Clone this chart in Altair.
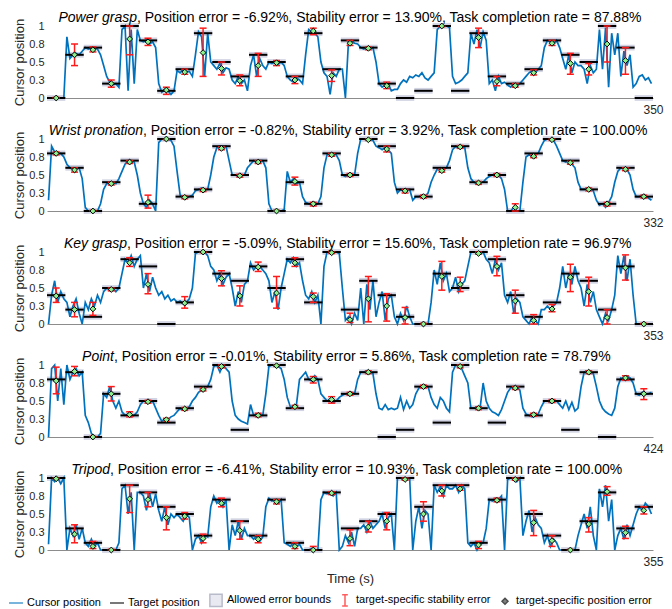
import altair as alt
import pandas as pd

FONT = "Liberation Sans"
BLUE = "#0072BD"
RED = "#FF1A1A"
BAND = "#d2d4e4"
GREEN = "#8CF08C"

MOVEMENTS = ["Power grasp", "Wrist pronation", "Key grasp", "Point", "Tripod"]
POSITION_ERROR = [-6.92, -0.82, -5.09, -0.01, -6.41]
STABILITY_ERROR = [13.90, 3.92, 15.60, 5.86, 10.93]
COMPLETION_RATE = [87.88, 100.00, 96.97, 78.79, 100.00]
DURATION = [350, 332, 353, 424, 355]

# ---------- targets (33 per movement) ----------
TGT1 = [0, 0.6, 0.7, 0.2, 1.0, 0.8, 0.1, 0.4, 0.9, 0.5, 0.3, 0.6, 0.5, 0.3, 0.9, 0.4,
        0.8, 0.7, 0.2, 0, 0.1, 1.0, 0.1, 0.9, 0.3, 0.2, 0.4, 0.8, 0.6, 0.5, 1.0, 0.7, 0]
POS1 = [0.0, 0.6, 0.67, 0.2, 0.82, 0.78, 0.11, 0.36, 0.63, 0.41, 0.24, 0.45, 0.49, 0.25, 0.93, 0.31,
        0.76, 0.69, 0.17, None, None, 1.0, None, 0.84, 0.23, 0.17, 0.35, 0.76, 0.48, 0.4, 0.75, 0.52, None]
LO1 = [0.0, 0.45, 0.64, 0.15, 0.6, 0.73, 0.05, 0.33, 0.3, 0.32, 0.17, 0.3, 0.45, 0.2, 0.88, 0.23,
       0.73, 0.67, 0.13, None, None, 0.99, None, 0.7, 0.17, 0.15, 0.32, 0.73, 0.33, 0.32, 0.5, 0.33, None]
HI1 = [0.01, 0.75, 0.71, 0.25, 1.0, 0.83, 0.15, 0.4, 0.97, 0.5, 0.32, 0.62, 0.52, 0.3, 0.97, 0.39,
       0.8, 0.71, 0.22, None, None, 1.0, None, 0.97, 0.3, 0.2, 0.39, 0.8, 0.62, 0.48, 1.0, 0.7, None]

TGT2 = [0.8, 0.6, 0, 0.4, 0.7, 0.1, 1.0, 0.2, 0.3, 0.9, 0.5, 0.7, 0, 0.4, 0.1, 0.8,
        0.5, 1.0, 0.9, 0.3, 0.2, 0.6, 0.9, 0.4, 0.5, 0.0, 0.8, 1.0, 0.7, 0.3, 0.1, 0.6, 0.2]
POS2 = [0.8, 0.57, 0.0, 0.38, 0.68, 0.12, 1.0, 0.19, 0.29, 0.87, 0.49, 0.68, 0.0, 0.41, 0.1, 0.78,
        0.5, 0.99, 0.86, 0.28, 0.2, 0.56, 0.89, 0.39, 0.5, 0.05, 0.76, 0.99, 0.67, 0.3, 0.1, 0.58, 0.2]
LO2 = [0.78, 0.54, 0.0, 0.36, 0.66, 0.04, 0.99, 0.17, 0.27, 0.85, 0.47, 0.66, 0.0, 0.36, 0.07, 0.76,
       0.48, 0.98, 0.82, 0.25, 0.18, 0.54, 0.87, 0.37, 0.48, 0.0, 0.74, 0.98, 0.65, 0.28, 0.07, 0.56, 0.18]
HI2 = [0.82, 0.6, 0.01, 0.4, 0.7, 0.22, 1.0, 0.21, 0.31, 0.89, 0.51, 0.7, 0.01, 0.47, 0.12, 0.8,
       0.52, 1.0, 0.9, 0.3, 0.22, 0.58, 0.91, 0.41, 0.52, 0.1, 0.78, 1.0, 0.69, 0.32, 0.12, 0.6, 0.22]

TGT3 = [0.4, 0.2, 0.1, 0.5, 0.9, 0.8, 0.0, 0.3, 1.0, 0.7, 0.6, 0.8, 0.5, 0.9, 0.3, 1.0,
        0.2, 0.6, 0.4, 0.1, 0.0, 0.7, 0.5, 1.0, 0.9, 0.4, 0.1, 0.3, 0.7, 0.6, 0.2, 0.8, 0.0]
POS3 = [0.39, 0.2, 0.21, 0.48, 0.85, 0.55, None, 0.29, 1.0, 0.63, 0.39, 0.79, 0.43, 0.85, 0.38, 0.99,
        0.06, 0.35, 0.25, 0.09, 0.0, 0.66, 0.55, 0.98, 0.8, 0.32, 0.05, 0.21, 0.65, 0.45, 0.09, 0.78, 0.0]
LO3 = [0.3, 0.1, 0.12, 0.46, 0.8, 0.42, None, 0.22, 0.99, 0.53, 0.25, 0.73, 0.22, 0.8, 0.3, 0.98,
       0.02, 0.03, 0.04, 0.0, 0.0, 0.47, 0.45, 0.97, 0.67, 0.15, 0.0, 0.17, 0.45, 0.25, 0.0, 0.61, 0.0]
HI3 = [0.5, 0.3, 0.3, 0.5, 0.92, 0.7, None, 0.38, 1.0, 0.74, 0.53, 0.86, 0.66, 0.92, 0.43, 1.0,
       0.15, 0.66, 0.42, 0.23, 0.01, 0.87, 0.65, 1.0, 0.94, 0.47, 0.13, 0.27, 0.83, 0.65, 0.2, 0.96, 0.01]

TGT4 = [0.8, 0.9, 0.0, 0.6, 0.3, 0.5, 0.2, 0.4, 0.7, 1.0, 0.1, 0.3, 1.0, 0.4, 0.8, 0.5,
        0.6, 0.9, 0.0, 0.1, 0.7, 0.2, 1.0, 0.4, 0.2, 0.7, 0.3, 0.5, 0.1, 0.9, 0.0, 0.8, 0.6]
POS4 = [0.78, 0.91, 0.0, 0.6, 0.31, 0.49, 0.24, 0.39, 0.66, 0.98, None, 0.3, 0.99, 0.42, 0.8, 0.52,
        0.6, 0.9, None, None, 0.7, None, 0.98, 0.4, None, 0.68, 0.31, 0.5, None, 0.9, None, 0.82, 0.6]
LO4 = [0.6, 0.85, 0.0, 0.5, 0.28, 0.47, 0.22, 0.37, 0.64, 0.96, None, 0.28, 0.98, 0.4, 0.75, 0.47,
       0.58, 0.88, None, None, 0.68, None, 0.96, 0.38, None, 0.66, 0.29, 0.48, None, 0.88, None, 0.79, 0.52]
HI4 = [0.97, 0.98, 0.01, 0.7, 0.35, 0.51, 0.26, 0.41, 0.68, 1.0, None, 0.33, 1.0, 0.44, 0.84, 0.56,
       0.62, 0.92, None, None, 0.72, None, 1.0, 0.42, None, 0.7, 0.33, 0.52, None, 0.92, None, 0.85, 0.67]

TGT5 = [1.0, 0.3, 0.1, 0.0, 0.9, 0.8, 0.6, 0.5, 0.2, 0.7, 0.4, 0.2, 0.7, 0.1, 0.0, 0.8,
        0.3, 0.4, 0.5, 1.0, 0.6, 0.9, 0.9, 0.1, 0.7, 1.0, 0.5, 0.2, 0.0, 0.4, 0.8, 0.3, 0.6]
POS5 = [0.99, 0.22, 0.05, 0.0, 0.71, 0.7, 0.45, 0.47, 0.16, 0.65, 0.27, 0.15, 0.67, 0.05, 0.0, 0.79,
        0.16, 0.32, 0.4, 0.98, 0.5, 0.82, 0.85, 0.07, 0.69, 0.98, 0.38, 0.13, 0.0, 0.36, 0.81, 0.24, 0.55]
LO5 = [0.98, 0.1, 0.02, 0.0, 0.52, 0.6, 0.28, 0.43, 0.1, 0.6, 0.15, 0.1, 0.64, 0.02, 0.0, 0.77,
       0.06, 0.25, 0.28, 0.97, 0.4, 0.75, 0.83, 0.02, 0.67, 0.97, 0.2, 0.05, 0.0, 0.25, 0.76, 0.16, 0.5]
HI5 = [1.0, 0.35, 0.12, 0.01, 0.9, 0.8, 0.6, 0.52, 0.22, 0.72, 0.4, 0.2, 0.7, 0.1, 0.05, 0.81,
       0.28, 0.4, 0.52, 1.0, 0.67, 0.9, 0.9, 0.12, 0.72, 1.0, 0.55, 0.2, 0.01, 0.45, 0.88, 0.33, 0.6]

# ---------- cursor traces (6 samples per target period) ----------
CUR1 = [
    0, 0, 0, 0, 0, 0,
    0.85, 0.55, 0.6, 0.62, 0.6, 0.65,
    0.7, 0.68, 0.7, 0.7, 0.68, 0.6,
    0.45, 0.3, 0.22, 0.18, 0.2, 0.15,
    0.95, 1.0, 0.1, 0.95, 0.2, 0.95,
    0.8, 0.78, 0.8, 0.75, 0.78, 0.7,
    0.2, 0.08, 0.12, 0.1, 0.05, 0.1,
    0.38, 0.35, 0.4, 0.36, 0.37, 0.3,
    0.6, 0.92, 0.85, 0.3, 0.9, 0.5,
    0.45, 0.4, 0.48, 0.35, 0.42, 0.4,
    0.25, 0.2, 0.3, 0.2, 0.25, 0.1,
    0.45, 0.6, 0.3, 0.55, 0.45, 0.4,
    0.5, 0.48, 0.5, 0.47, 0.5, 0.45,
    0.3, 0.25, 0.22, 0.28, 0.25, 0.2,
    0.6, 0.95, 0.92, 0.9, 0.85, 0.5,
    0.35, 0.3, 0.05, 0.35, 0.3, 0.4,
    0.4, 0.0, 0.78, 0.8, 0.76, 0.75,
    0.7, 0.68, 0.7, 0.69, 0.7, 0.5,
    0.2, 0.15, 0.18, 0.2, 0.1, 0.12,
    0.12, 0.2, 0.25, 0.22, 0.3, 0.28,
    0.32, 0.3, 0.35, 0.28, 0.25, 0.3,
    0.35, 0.95, 1.0, 1.0, 1.0, 0.98,
    0.3, 0.2, 0.22, 0.25, 0.3, 0.35,
    0.9, 0.75, 0.95, 0.7, 0.92, 0.8,
    0.2, 0.25, 0.1, 0.3, 0.2, 0.22,
    0.18, 0.15, 0.2, 0.17, 0.2, 0.25,
    0.3, 0.35, 0.38, 0.35, 0.4, 0.45,
    0.7, 0.8, 0.78, 0.75, 0.8, 0.7,
    0.55, 0.4, 0.6, 0.35, 0.5, 0.45,
    0.45, 0.4, 0.2, 0.45, 0.35, 0.4,
    0.95, 0.4, 0.98, 0.15, 0.9, 0.6,
    0.9, 0.3, 0.65, 0.45, 0.6, 0.15,
    0.2, 0.3, 0.32, 0.25, 0.28, 0.2,
]
CUR2 = [
    0.15, 0.9, 0.82, 0.8, 0.8, 0.75,
    0.65, 0.6, 0.58, 0.6, 0.6, 0.45,
    0.05, 0, 0, 0, 0, 0.1,
    0.3, 0.38, 0.4, 0.4, 0.38, 0.45,
    0.55, 0.65, 0.7, 0.7, 0.68, 0.5,
    0.25, 0.1, 0.05, 0.15, 0.1, 0.0,
    0.95, 1.0, 1.0, 1.0, 0.98, 0.9,
    0.55, 0.22, 0.2, 0.18, 0.2, 0.22,
    0.28, 0.3, 0.32, 0.3, 0.3, 0.5,
    0.75, 0.88, 0.9, 0.88, 0.9, 0.7,
    0.5, 0.5, 0.48, 0.5, 0.5, 0.6,
    0.65, 0.7, 0.68, 0.7, 0.7, 0.6,
    0.1, 0, 0, 0, 0, 0.02,
    0.55, 0.4, 0.45, 0.38, 0.4, 0.2,
    0.12, 0.1, 0.1, 0.08, 0.1, 0.2,
    0.6, 0.78, 0.8, 0.8, 0.78, 0.7,
    0.5, 0.48, 0.5, 0.5, 0.5, 0.8,
    1.0, 1.0, 1.0, 1.0, 0.98, 0.9,
    0.88, 0.85, 0.88, 0.85, 0.8, 0.4,
    0.25, 0.3, 0.28, 0.3, 0.3, 0.15,
    0.2, 0.2, 0.22, 0.2, 0.25, 0.4,
    0.5, 0.58, 0.6, 0.58, 0.6, 0.7,
    0.85, 0.9, 0.88, 0.9, 0.88, 0.6,
    0.45, 0.4, 0.38, 0.4, 0.4, 0.45,
    0.48, 0.5, 0.52, 0.5, 0.45, 0.3,
    0.0, 0.0, 0.05, 0.0, 0.0, 0.4,
    0.75, 0.78, 0.76, 0.78, 0.8, 0.9,
    0.98, 1.0, 1.0, 0.98, 0.9, 0.8,
    0.7, 0.68, 0.7, 0.65, 0.6, 0.4,
    0.3, 0.3, 0.32, 0.3, 0.28, 0.15,
    0.08, 0.1, 0.05, 0.12, 0.2, 0.4,
    0.55, 0.6, 0.6, 0.58, 0.5, 0.3,
    0.2, 0.2, 0.22, 0.2, 0.18, 0.15,
]
CUR3 = [
    0.0, 0.4, 0.6, 0.3, 0.45, 0.35,
    0.3, 0.1, 0.25, 0.35, 0.15, 0.0,
    0.3, 0.2, 0.35, 0.25, 0.4, 0.3,
    0.45, 0.5, 0.48, 0.5, 0.45, 0.5,
    0.7, 0.9, 0.85, 0.95, 0.8, 0.9,
    0.95, 0.5, 0.7, 0.45, 0.65, 0.5,
    0.4, 0.45, 0.35, 0.4, 0.32, 0.35,
    0.3, 0.32, 0.28, 0.3, 0.35, 0.5,
    0.98, 1.0, 1.0, 1.0, 0.95, 0.8,
    0.75, 0.6, 0.7, 0.55, 0.65, 0.7,
    0.5, 0.25, 0.45, 0.3, 0.55, 0.6,
    0.85, 0.75, 0.8, 0.8, 0.75, 0.7,
    0.6, 0.3, 0.45, 0.2, 0.5, 0.7,
    0.9, 0.85, 0.92, 0.8, 0.85, 0.6,
    0.4, 0.35, 0.45, 0.3, 0.4, 0.0,
    0.8, 1.0, 1.0, 1.0, 1.0, 0.98,
    0.5, 0.05, 0.1, 0.0, 0.15, 0.05,
    0.5, 0.0, 0.55, 0.2, 0.6, 0.1,
    0.3, 0.45, 0.05, 0.35, 0.4, 0.1,
    0.0, 0.15, 0.05, 0.25, 0.1, 0.0,
    0.0, 0.0, 0.0, 0.0, 0.0, 0.3,
    0.75, 0.55, 0.85, 0.6, 0.7, 0.45,
    0.5, 0.65, 0.45, 0.55, 0.6, 0.8,
    1.0, 1.0, 1.0, 0.98, 1.0, 0.9,
    0.85, 0.7, 0.9, 0.75, 0.85, 0.4,
    0.3, 0.45, 0.15, 0.35, 0.3, 0.1,
    0.05, 0.0, 0.1, 0.05, 0.0, 0.2,
    0.2, 0.25, 0.2, 0.25, 0.3, 0.5,
    0.8, 0.5, 0.7, 0.55, 0.8, 0.6,
    0.5, 0.25, 0.55, 0.3, 0.45, 0.2,
    0.1, 0.0, 0.15, 0.05, 0.2, 0.4,
    0.95, 0.7, 0.95, 0.6, 0.9, 0.4,
    0.0, 0.0, 0.0, 0.0, 0.0, 0.0,
]
CUR4 = [
    0.0, 0.95, 1.0, 0.5, 0.95, 0.45,
    1.0, 0.8, 0.9, 0.95, 0.85, 0.9,
    0.3, 0.2, 0.05, 0.0, 0.0, 0.05,
    0.6, 0.55, 0.7, 0.5, 0.4, 0.5,
    0.35, 0.3, 0.32, 0.28, 0.3, 0.35,
    0.45, 0.5, 0.5, 0.48, 0.5, 0.4,
    0.3, 0.22, 0.25, 0.24, 0.28, 0.3,
    0.35, 0.4, 0.38, 0.4, 0.42, 0.5,
    0.55, 0.62, 0.65, 0.68, 0.7, 0.8,
    0.98, 1.0, 0.9, 1.0, 0.95, 0.9,
    0.5, 0.3, 0.25, 0.22, 0.2, 0.18,
    0.45, 0.3, 0.32, 0.3, 0.3, 0.6,
    0.98, 1.0, 1.0, 0.98, 0.95, 0.8,
    0.55, 0.42, 0.4, 0.45, 0.8, 0.85,
    0.9, 0.8, 0.78, 0.85, 0.8, 0.6,
    0.55, 0.5, 0.52, 0.48, 0.5, 0.55,
    0.58, 0.6, 0.6, 0.62, 0.6, 0.8,
    0.9, 0.9, 0.92, 0.9, 0.88, 0.6,
    0.4, 0.38, 0.45, 0.38, 0.4, 0.38,
    0.4, 0.55, 0.38, 0.5, 0.4, 0.45,
    0.6, 0.68, 0.7, 0.72, 0.7, 0.55,
    0.45, 0.4, 0.55, 0.5, 0.4, 0.35,
    0.9, 1.0, 1.0, 0.95, 0.85, 0.75,
    0.4, 0.4, 0.42, 0.4, 0.75, 0.5,
    0.4, 0.35, 0.33, 0.3, 0.38, 0.5,
    0.62, 0.68, 0.7, 0.7, 0.65, 0.4,
    0.32, 0.3, 0.28, 0.3, 0.32, 0.42,
    0.5, 0.5, 0.48, 0.5, 0.5, 0.45,
    0.4, 0.5, 0.38, 0.48, 0.36, 0.4,
    0.7, 0.9, 0.92, 0.9, 0.88, 0.7,
    0.5, 0.4, 0.35, 0.32, 0.3, 0.4,
    0.7, 0.82, 0.8, 0.85, 0.82, 0.75,
    0.6, 0.58, 0.62, 0.6, 0.6, 0.62,
]
CUR5 = [
    0.08, 1.0, 0.95, 1.0, 0.92, 1.0,
    0.0, 0.3, 0.2, 0.35, 0.15, 0.3,
    0.1, 0.05, 0.15, 0.05, 0.1, 0.0,
    0.0, 0.0, 0.0, 0.0, 0.0, 0.1,
    0.85, 0.9, 0.5, 0.8, 0.0, 0.8,
    0.8, 0.75, 0.55, 0.8, 0.6, 0.78,
    0.55, 0.4, 0.6, 0.35, 0.5, 0.45,
    0.5, 0.45, 0.4, 0.5, 0.45, 0.0,
    0.15, 0.2, 0.1, 0.2, 0.18, 0.6,
    0.75, 0.65, 0.7, 0.6, 0.7, 0.0,
    0.35, 0.2, 0.4, 0.15, 0.3, 0.2,
    0.2, 0.15, 0.2, 0.12, 0.18, 0.6,
    0.72, 0.68, 0.7, 0.65, 0.7, 0.1,
    0.08, 0.05, 0.1, 0.05, 0.08, 0.0,
    0.0, 0.0, 0.02, 0.0, 0.0, 0.7,
    0.8, 0.78, 0.8, 0.75, 0.8, 0.0,
    0.05, 0.2, 0.1, 0.25, 0.05, 0.3,
    0.3, 0.35, 0.25, 0.4, 0.3, 0.35,
    0.4, 0.5, 0.3, 0.45, 0.5, 0.0,
    1.0, 1.0, 0.98, 1.0, 1.0, 0.0,
    0.4, 0.6, 0.3, 0.55, 0.5, 0.0,
    0.9, 0.8, 0.88, 0.75, 0.9, 0.85,
    0.85, 0.9, 0.8, 0.9, 0.85, 0.1,
    0.05, 0.1, 0.0, 0.08, 0.1, 0.3,
    0.7, 0.68, 0.72, 0.7, 0.75, 0.0,
    0.98, 1.0, 1.0, 0.95, 1.0, 0.2,
    0.4, 0.55, 0.25, 0.45, 0.35, 0.3,
    0.1, 0.2, 0.05, 0.15, 0.1, 0.0,
    0.0, 0.0, 0.0, 0.0, 0.0, 0.2,
    0.35, 0.5, 0.3, 0.6, 0.2, 0.0,
    0.85, 0.6, 0.9, 0.4, 0.7, 0.0,
    0.2, 0.3, 0.15, 0.35, 0.2, 0.35,
    0.5, 0.6, 0.55, 0.65, 0.6, 0.5,
]

TARGETS = [TGT1, TGT2, TGT3, TGT4, TGT5]
POSITIONS = [POS1, POS2, POS3, POS4, POS5]
LOWS = [LO1, LO2, LO3, LO4, LO5]
HIGHS = [HI1, HI2, HI3, HI4, HI5]
CURSORS = [CUR1, CUR2, CUR3, CUR4, CUR5]

LEGEND_ITEMS = ["Cursor position", "Target position", "Allowed error bounds",
                "target-specific stability error", "target-specific position error"]

# ---------- style constants ----------
PLOT_W = 606
PLOT_H = 72
TITLE_SPLIT = [90, 96, 80, 67, 63]
I_PATH = "M0,-1L0,1M-0.5,-1L0.5,-1M-0.5,1L0.5,1"


def panel(i, last):
    T = DURATION[i]
    n = len(TARGETS[i])
    step = T / n
    trials = pd.DataFrame({
        "start": [k * step for k in range(n)],
        "end": [(k + 1) * step for k in range(n)],
        "center": [(k + 0.5) * step for k in range(n)],
        "target": TARGETS[i],
        "pos": POSITIONS[i],
        "lo": LOWS[i],
        "hi": HIGHS[i],
    })
    cur = CURSORS[i]
    m = len(cur)
    cursor = pd.DataFrame({"t": [(j + 0.5) * T / m for j in range(m)], "v": cur})

    xtitle = "Time (s)" if last else ""
    xscale = alt.Scale(domain=[0, T], nice=False, zero=False)
    yscale = alt.Scale(domain=[0, 1], nice=False)
    xaxis = alt.Axis(values=[T], format="d", labelFlush=False, ticks=False, grid=False,
                     domainColor="#8c8c8c", domainWidth=1, labelPadding=6, labelFontSize=12,
                     titleFontSize=13, titleFontWeight="normal", titlePadding=5)
    yaxis = alt.Axis(values=[0, 0.25, 0.5, 0.75, 1], format="~g", grid=False, domain=False,
                     ticks=False, labelFontSize=11, labelPadding=3, titleFontSize=13,
                     titleFontWeight="normal", titlePadding=2)

    def X(f):
        return alt.X(f"{f}:Q", scale=xscale, axis=xaxis, title=xtitle)

    def Y(f):
        return alt.Y(f"{f}:Q", scale=yscale, axis=yaxis, title="Cursor position")

    base = alt.Chart(trials)
    band = base.transform_calculate(
        b0="datum.target - 0.04", b1="datum.target + 0.04"
    ).mark_rect(color=BAND).encode(x=X("start"), x2="end:Q", y=Y("b0"), y2="b1:Q")
    line = alt.Chart(cursor).mark_line(color=BLUE, strokeWidth=1.7).encode(x=X("t"), y=Y("v"))
    target = base.mark_rule(color="black", strokeWidth=2).encode(x=X("start"), x2="end:Q", y=Y("target"))
    valid = base.transform_filter("datum.pos != null")
    err = valid.mark_rule(color=RED, strokeWidth=1.5).encode(x=X("center"), y=Y("lo"), y2="hi:Q")
    cap_lo = valid.mark_rule(color=RED, strokeWidth=1.5, xOffset=-3.5, x2Offset=3.5).encode(
        x=X("center"), x2="center:Q", y=Y("lo"))
    cap_hi = valid.mark_rule(color=RED, strokeWidth=1.5, xOffset=-3.5, x2Offset=3.5).encode(
        x=X("center"), x2="center:Q", y=Y("hi"))
    dia = valid.mark_point(shape="diamond", filled=True, fill=GREEN, stroke="black",
                           strokeWidth=1, size=34, opacity=1).encode(x=X("center"), y=Y("pos"))

    rest = (f", Position error = {POSITION_ERROR[i]:.2f}%, Stability error = "
            f"{STABILITY_ERROR[i]:.2f}%, Task completion rate = {COMPLETION_RATE[i]:.2f}%")
    tdf = pd.DataFrame({"name": [MOVEMENTS[i]], "rest": [rest]})
    t1 = alt.Chart(tdf).mark_text(align="right", baseline="alphabetic", fontStyle="italic",
                                  fontSize=14, font=FONT, color="black").encode(
        x=alt.value(TITLE_SPLIT[i]), y=alt.value(-4), text="name:N")
    t2 = alt.Chart(tdf).mark_text(align="left", baseline="alphabetic",
                                  fontSize=14, font=FONT, color="black").encode(
        x=alt.value(TITLE_SPLIT[i]), y=alt.value(-4), text="rest:N")

    layers = [band, line, target, err, cap_lo, cap_hi, dia, t1, t2]

    if last:
        leg = alt.Legend(title=None, orient="none", legendX=-39, legendY=567,
                         direction="horizontal", columns=5, labelFontSize=11, labelFont=FONT,
                         labelColor="black", symbolStrokeWidth=1.5, columnPadding=6,
                         labelOffset=3)
        ldf = pd.DataFrame({"item": LEGEND_ITEMS})
        legend_layer = alt.Chart(ldf).mark_point(filled=True, clip=True, strokeWidth=1.5).encode(
            x=alt.value(-200), y=alt.value(-200),
            fill=alt.Fill("item:N", scale=alt.Scale(domain=LEGEND_ITEMS,
                          range=[BLUE, "black", BAND, RED, "black"]), legend=leg),
            stroke=alt.Stroke("item:N", scale=alt.Scale(domain=LEGEND_ITEMS,
                              range=[BLUE, "black", "#9c9fb4", RED, "black"]), legend=leg),
            shape=alt.Shape("item:N", scale=alt.Scale(domain=LEGEND_ITEMS,
                            range=["stroke", "stroke", "square", I_PATH, "diamond"]), legend=leg),
            size=alt.Size("item:N", scale=alt.Scale(type="ordinal", domain=LEGEND_ITEMS,
                          range=[196, 196, 150, 130, 36]), legend=leg),
        )
        layers.append(legend_layer)

    return alt.layer(*layers).properties(width=PLOT_W, height=PLOT_H)


panels = [panel(i, i == len(MOVEMENTS) - 1) for i in range(len(MOVEMENTS))]

chart = alt.vconcat(*panels, spacing=41, bounds="flush").properties(
    padding={"top": 3, "left": 0, "right": 0, "bottom": 0}, background="white"
).configure_view(stroke=None).configure_axis(
    labelFont=FONT, titleFont=FONT, labelColor="#262626", titleColor="#262626"
).configure_text(font=FONT)

chart.save("out.html", embed_options={"renderer": "svg", "actions": False})
